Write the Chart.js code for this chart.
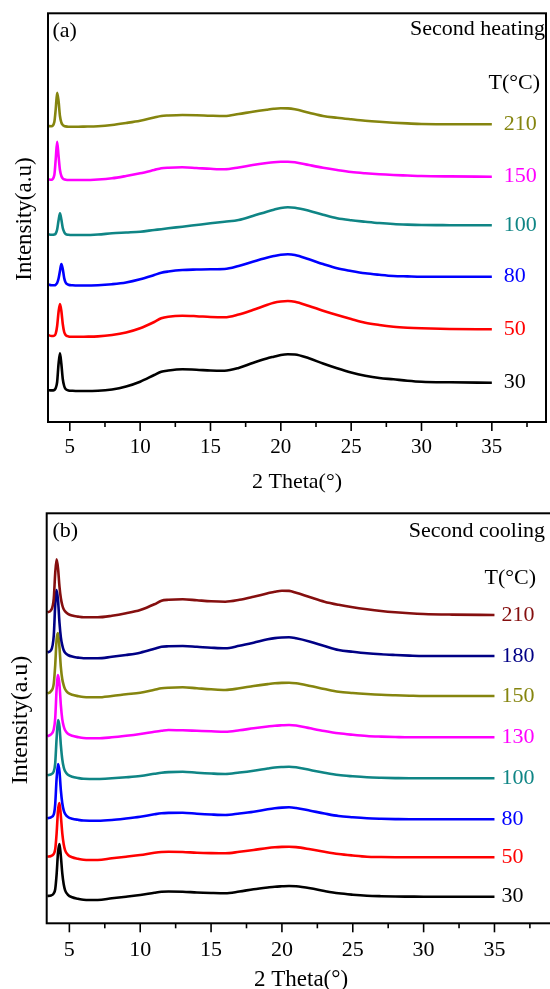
<!DOCTYPE html>
<html>
<head>
<meta charset="utf-8">
<script src="https://cdn.jsdelivr.net/npm/chart.js@4.4.1/dist/chart.umd.min.js"></script>
<style>
html, body { margin: 0; padding: 0; background: #fff; overflow: hidden; }
#wrap { position: relative; width: 550px; height: 989px; overflow: hidden; }
#chart-heat { position: absolute; left: 0; top: 0; }
#chart-cool { position: absolute; left: 0; top: 500px; }
</style>
</head>
<body>
<div id="wrap">
    <canvas id="chart-heat" width="550" height="500"></canvas>
    <canvas id="chart-cool" width="560" height="500"></canvas>
</div>
<script>
// 2 theta, degrees (shared grid for every scan)
theta = [3.45, 3.7, 3.9, 4.0, 4.1, 4.2, 4.3, 4.4, 4.5, 4.6, 4.7, 4.9, 5.2, 5.6,
    6, 7, 8, 9, 10,
    11, 11.5, 12,
    13, 14, 15, 16, 17, 18,
    19, 19.5, 20, 20.5, 21,
    22, 23, 24, 25, 26, 27, 28, 29, 30,
    32, 35]

x_ticks = [5, 7.5, 10, 12.5, 15, 17.5, 20, 22.5, 25, 27.5, 30, 32.5, 35, 37.5]

// (a) second heating, curves already shifted upward
heat_temps = ['210', '150', '100', '80', '50', '30']

heat_210 = [296, 295.8, 300, 313, 329.3, 321, 306, 299.5, 297, 296, 295.6, 295.3, 295.3, 295.3,
    295.4, 295.8, 297, 299, 301.3,
    304.5, 306, 306.5,
    307, 306.8, 306.3, 306, 308, 310.3,
    312.3, 313.2, 313.7, 313.6, 312.7,
    309.3, 306, 304.2, 302.7, 301.3, 300.2, 299.3, 298.6, 298,
    297.8, 297.7]
heat_150 = [242.7, 242.3, 247, 263, 280.3, 266, 252, 246, 243.5, 242.6, 242.3, 242, 242, 242,
    242, 242.5, 243.7, 246, 248.7,
    252, 253.7, 254.3,
    254.7, 254, 253.2, 252.7, 254.5, 257,
    259, 259.8, 260.2, 260.3, 259.8,
    257, 254.3, 252, 250, 248.7, 247.7, 247, 246.5, 246,
    245.6, 245.3]
heat_100 = [187.7, 187.2, 187.5, 188.5, 192.5, 201.5, 208.7, 202.5, 194, 190, 188, 187.2, 187, 187,
    187, 187.5, 188.7, 189.5, 190.3,
    192, 192.8, 193.7,
    195.3, 197, 198.7, 200.3, 202, 206,
    210.3, 212.3, 214, 214.7, 214.3,
    211.3, 207.3, 203.7, 201.7, 200.3, 199, 198, 197.4, 197,
    196.8, 196.7]
heat_80 = [137.7, 136.8, 136.7, 137.3, 139, 143.5, 151, 158, 153, 144, 139.5, 137.3, 136.7, 136.5,
    136.5, 136.8, 137.8, 139.5, 142.7,
    147, 149.3, 150.5,
    152, 152.5, 152.8, 153, 156, 160.3,
    164.3, 166, 167.3, 167.7, 167,
    162.7, 158, 153.7, 151, 148.7, 147.2, 146, 145.6, 145.3,
    145.3, 145.3]
heat_50 = [87, 86, 86.4, 88.5, 96, 110, 118, 111, 98, 90, 87, 85.6, 85.3, 85.2,
    85.3, 85.6, 87, 89.5, 93.7,
    100, 103.7, 105.3,
    106.3, 105.8, 105, 104.7, 107.5, 112,
    117, 119.3, 120.5, 121, 120.3,
    116, 111.3, 107, 103, 99.3, 97, 95.3, 94.3, 93.7,
    93, 92.7]
heat_30 = [32, 31.6, 32, 34, 40, 58, 68.7, 58, 43, 36, 33, 31.6, 31.2, 31,
    31, 31.2, 32.5, 35.5, 40.3,
    47, 50.3, 51.5,
    52.7, 52.3, 51.5, 51.3, 54, 59,
    63.5, 65.3, 67, 67.7, 67.5,
    63.7, 58.5, 53.7, 49.5, 46.3, 44, 42.7, 41.3, 40.3,
    39.7, 39.3]

// (b) second cooling
cool_temps = ['210', '180', '150', '130', '100', '80', '50', '30']

cool_210 = [311, 313, 325, 350, 364, 355, 337, 325, 318, 314, 312, 309.5, 307.8, 306.7,
    306, 306, 307.5, 310, 313.3,
    319, 322.6, 323.5,
    324, 323, 322, 321.6, 323.5, 326.6,
    330, 331.6, 332.6, 332.4, 330.6,
    326, 321.6, 318.5, 316, 314, 312.3, 311, 310, 309.3,
    308.7, 308.3]
cool_180 = [271, 273, 288, 318, 333.3, 323, 301, 286, 278, 273, 270.5, 268.3, 266.7, 265.7,
    265, 265, 266.5, 268.3, 270.6,
    274.5, 276.6, 277,
    277.3, 276.5, 275.6, 275, 277.5, 280.6,
    284, 285.2, 285.8, 286, 285,
    281.6, 277.3, 273.3, 271.5, 270, 269, 268.3, 267.7, 267.3,
    267.3, 267.3]
cool_150 = [230, 232, 240, 258, 284, 290.3, 276, 256, 244, 238, 234, 230.5, 228.5, 227.2,
    226.3, 226, 227.3, 229, 230.6,
    233.5, 235, 235.6,
    236, 235, 234, 233.3, 235, 237.3,
    239.2, 240, 240.4, 240.6, 240,
    237.3, 234.3, 231.6, 230.3, 229.3, 228.5, 228, 227.6, 227.3,
    227.3, 227.3]
cool_130 = [187, 189, 194, 205, 234, 248.3, 239, 218, 204, 197, 193, 189.5, 187.5, 186.2,
    185.3, 185, 186, 187.5, 189.3,
    191.5, 192.5, 193.3,
    193, 192.5, 192, 191.6, 193, 195,
    196.8, 197.6, 198, 198.3, 197.8,
    195, 192.3, 190, 188.5, 187.3, 186.7, 186.3, 186, 186,
    186, 186]
cool_100 = [148, 149, 152, 160, 185, 203.3, 197, 178, 164, 156, 152, 148.5, 146.5, 145.3,
    144.5, 144.3, 145, 146, 147.3,
    149.5, 150.6, 151.2,
    151.6, 150.6, 149.8, 149.3, 150.8, 152.6,
    154.8, 155.8, 156.3, 156.6, 156,
    153.3, 150.6, 148.3, 147, 146, 145.5, 145.2, 145, 145,
    145, 145]
cool_80 = [105, 106, 109, 119, 145, 159.3, 152, 133, 120, 113, 109.5, 106.3, 104.6, 103.5,
    102.8, 102.6, 103.3, 104.8, 106.6,
    109, 110, 110.4,
    110.6, 109.6, 108.8, 108.3, 109.8, 111.6,
    114, 115, 115.7, 116, 115.3,
    112.6, 109.8, 107.3, 106, 105, 104.5, 104.2, 104, 104,
    104, 104]
cool_50 = [66.6, 67.3, 69.5, 74, 90, 113, 120.3, 107, 90, 79, 73, 68.5, 66, 64.6,
    63.6, 63.3, 65, 66.6, 68.3,
    70.5, 71.3, 71.6,
    71.3, 70.6, 70.2, 70, 71.5, 73.3,
    75.3, 76, 76.4, 76.6, 76.2,
    74, 71.5, 69.3, 67.8, 66.6, 66.3, 66.1, 66, 66,
    66, 66]
cool_30 = [27.3, 27.8, 30, 34, 49, 71, 79.3, 67, 50, 39, 33, 28.5, 26, 24.6,
    23.6, 23.3, 25, 26.6, 28.3,
    30.6, 31.6, 31.8,
    31.6, 30.8, 30.3, 30, 31.8, 34,
    35.8, 36.6, 37, 37.3, 37,
    35, 32.3, 30, 28.6, 27.6, 27.1, 26.8, 26.7, 26.6,
    26.6, 26.6]

heat_colors = ['#85850f', '#ff00ff', '#0f8585', '#0000ff', '#ff0000', '#000000']
cool_colors = ['#850f0f', '#000085', '#85850f', '#ff00ff', '#0f8585', '#0000ff', '#ff0000', '#000000']

serif = "'Liberation Serif', 'Times New Roman', serif"

frame_plugin = {
    id: 'frame',
    afterDraw(chart, args, opts) {
        const ctx = chart.ctx
        const a = chart.chartArea
        const xs = chart.scales.x
        const ys = chart.scales.y
        ctx.save()
        ctx.strokeStyle = '#000'
        ctx.lineWidth = 2
        ctx.strokeRect(a.left, a.top, a.right - a.left, a.bottom - a.top)

        ctx.lineWidth = 1.6
        xs.ticks.forEach(t => {
            const px = xs.getPixelForValue(t.value)
            const len = t.value % 5 == 0 ? 9 : 5
            ctx.beginPath()
            ctx.moveTo(px, a.bottom)
            ctx.lineTo(px, a.bottom + len)
            ctx.stroke()
        })

        // temperature next to each curve
        ctx.font = opts.labelSize + 'px ' + serif
        ctx.textAlign = 'left'
        ctx.textBaseline = 'middle'
        chart.data.datasets.forEach(ds => {
            const last = ds.data[ds.data.length - 1]
            ctx.fillStyle = ds.borderColor
            ctx.fillText(ds.label, xs.getPixelForValue(last.x) + opts.labelGap, ys.getPixelForValue(last.y))
        })

        ctx.fillStyle = '#000'
        ctx.textBaseline = 'alphabetic'
        opts.texts.forEach(t => {
            ctx.font = t.size + 'px ' + serif
            ctx.textAlign = t.align
            ctx.fillText(t.text, t.x, t.y)
        })

        ctx.translate(opts.yTitle.x, opts.yTitle.y)
        ctx.rotate(-Math.PI / 2)
        ctx.font = opts.yTitle.size + 'px ' + serif
        ctx.textAlign = 'center'
        ctx.textBaseline = 'middle'
        ctx.fillText('Intensity(a.u)', 0, 0)
        ctx.restore()
    }
}

function make_datasets(temps, series, colors) {
    return temps.map((t, i) => ({
        label: t,
        data: series[i].map((v, j) => ({x: theta[j], y: v})),
        borderColor: colors[i],
        backgroundColor: colors[i],
        borderWidth: 2.6,
        pointRadius: 0,
        cubicInterpolationMode: 'monotone',
        fill: false
    }))
}

function init_panel(canvas_id, datasets, cfg) {
    return new Chart(document.getElementById(canvas_id).getContext('2d'), {
        type: 'line',
        data: {datasets: datasets},
        options: {
            responsive: false,
            animation: false,
            devicePixelRatio: 1,
            layout: {padding: cfg.padding},
            plugins: {
                legend: {display: false},
                tooltip: {enabled: false},
                frame: cfg.frame
            },
            scales: {
                x: {
                    type: 'linear',
                    min: cfg.xmin,
                    max: cfg.xmax,
                    afterBuildTicks: s => { s.ticks = x_ticks.map(v => ({value: v})) },
                    afterFit: s => { s.height = cfg.axisHeight },
                    grid: {display: false, drawTicks: false},
                    border: {display: false},
                    ticks: {
                        autoSkip: false,
                        maxRotation: 0,
                        padding: cfg.tickPad,
                        color: '#000',
                        font: {family: serif, size: cfg.tickSize},
                        callback: v => (v % 5 == 0 && v <= 35) ? v : ''
                    },
                    title: {
                        display: true,
                        text: '2 Theta(°)',
                        color: '#000',
                        font: {family: serif, size: cfg.titleSize},
                        padding: {top: 0, bottom: cfg.titlePad}
                    }
                },
                y: {display: false, min: 0, max: cfg.ymax}
            }
        },
        plugins: [frame_plugin]
    })
}

heat_chart = init_panel('chart-heat',
    make_datasets(heat_temps, [heat_210, heat_150, heat_100, heat_80, heat_50, heat_30], heat_colors), {
        padding: {left: 48, top: 13.3, right: 4, bottom: 0},
        xmin: 3.45, xmax: 38.85, ymax: 408.7,
        axisHeight: 78, tickPad: 13, tickSize: 21, titleSize: 22, titlePad: 5,
        frame: {
            labelSize: 22, labelGap: 12,
            texts: [
                {text: '(a)', x: 52.5, y: 37, size: 22, align: 'left'},
                {text: 'Second heating', x: 545, y: 35, size: 22, align: 'right'},
                {text: 'T(°C)', x: 540, y: 89, size: 22, align: 'right'}
            ],
            yTitle: {x: 25, y: 219, size: 23}
        }
    })

cool_chart = init_panel('chart-cool',
    make_datasets(cool_temps, [cool_210, cool_180, cool_150, cool_130, cool_100, cool_80, cool_50, cool_30], cool_colors), {
        padding: {left: 46.7, top: 13.3, right: 4.6, bottom: 0},
        xmin: 3.4, xmax: 39.3, ymax: 410,
        axisHeight: 76.7, tickPad: 13.5, tickSize: 22, titleSize: 23, titlePad: 6,
        frame: {
            labelSize: 22, labelGap: 7,
            texts: [
                {text: '(b)', x: 52.5, y: 37, size: 22, align: 'left'},
                {text: 'Second cooling', x: 545, y: 37, size: 22, align: 'right'},
                {text: 'T(°C)', x: 536, y: 84, size: 22, align: 'right'}
            ],
            yTitle: {x: 21, y: 220, size: 24}
        }
    })
</script>
</body>
</html>
